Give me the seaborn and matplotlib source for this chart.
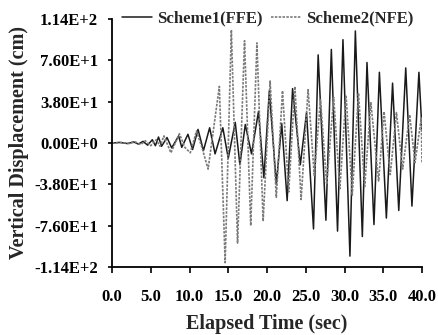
import seaborn as sns
import matplotlib.pyplot as plt

# Scheme1 (FFE) - peaks/troughs (time in sec, displacement in cm)
t_ffe = [0.0, 1.0, 2.0, 2.8, 3.4, 4.0, 4.6, 5.2, 5.6, 6.0, 6.4, 7.1, 7.7, 8.6, 9.0,
         9.8, 10.4, 11.1, 11.8, 12.6, 13.3, 14.3, 15.0, 15.9, 16.5, 17.2, 18.0, 18.9,
         19.6, 20.3, 21.2, 21.9, 22.6, 23.3, 24.3, 25.1, 26.0, 26.6, 27.6, 28.3, 29.1,
         29.8, 30.7, 31.4, 32.3, 32.9, 33.8, 34.5, 35.4, 36.2, 37.0, 37.9, 38.7, 39.6, 40.0]
d_ffe = [0, 0.5, -0.5, 1, -1, 1.5, -2, 3, -2.5, 5.5, -3, 5, -4.5, 6.5, -4,
         8, -6, 12.5, -7, 14, -10, 14, -14, 19, -20, 17, -10, 29,
         -32, 48, -38, 18, -53, 50, -20, 28, -79, 81, -71, 86, -81,
         95, -104, 103, -86, 74, -75, 65, -69, 55, -62, 69, -58, 65, 11]

# Scheme2 (NFE)
t_nfe = [0.0, 1.2, 2.2, 3.0, 3.7, 4.3, 5.0, 5.7, 6.2, 6.7, 7.6, 8.7, 9.4, 10.1, 10.9,
         11.6, 12.4, 13.85, 14.6, 15.4, 16.2, 17.1, 17.9, 18.7, 19.5, 20.4, 21.2, 22.0,
         22.8, 23.6, 24.4, 25.3, 26.1, 26.9, 27.7, 28.6, 29.4, 30.2, 31.0, 31.8, 32.6,
         33.4, 34.4, 35.1, 35.9, 36.7, 37.5, 38.4, 39.1, 39.9, 40.0]
d_nfe = [0, 0.5, -0.5, 1, -1.5, 2, -2.5, 3, -3, 6.5, -9, 8.5, -4, -9, 11,
         -4, -24, 52, -110, 104, -92, 94, -76, 92, -72, 57, -50, 48,
         -45, 52, -52, 49, -30, 40, -38, 42, -42, 44, -48, 46, -40,
         37, -35, 29, -29, 28, -24, 26, -18, 23, -19]

x_ticks = [0, 5, 10, 15, 20, 25, 30, 35, 40]
x_labels = ['0.0', '5.0', '10.0', '15.0', '20.0', '25.0', '30.0', '35.0', '40.0']
y_ticks = [-114, -76, -38, 0, 38, 76, 114]
y_labels = ['-1.14E+2', '-7.60E+1', '-3.80E+1', '0.00E+0', '3.80E+1', '7.60E+1', '1.14E+2']

sns.set_style('ticks')
plt.rcParams['font.family'] = ['Liberation Serif', 'DejaVu Serif']
plt.rcParams['font.weight'] = 'bold'

fig = plt.figure(figsize=(4.38, 3.35), dpi=100)
ax = fig.add_axes([0.2557, 0.203, 0.7078, 0.7403])

sns.lineplot(x=t_ffe, y=d_ffe, ax=ax, color='#1a1a1a', linewidth=1.1,
             label='Scheme1(FFE)', sort=False)
sns.lineplot(x=t_nfe, y=d_nfe, ax=ax, color='#7a7a7a', linewidth=1.2,
             linestyle=(0, (1.5, 0.8)), label='Scheme2(NFE)', sort=False)

ax.set_xlim(0, 40)
ax.set_ylim(-114, 114)
ax.set_xticks(x_ticks)
ax.set_xticklabels(x_labels, fontsize=12, fontweight='bold')
ax.set_yticks(y_ticks)
ax.set_yticklabels(y_labels, fontsize=12, fontweight='bold')
ax.tick_params(axis='x', direction='out', length=4, width=1.2, pad=12, colors='black')
ax.tick_params(axis='y', direction='out', length=3, width=1.2, pad=7, colors='black')
for side in ['top', 'right']:
    ax.spines[side].set_visible(False)
for side in ['left', 'bottom']:
    ax.spines[side].set_linewidth(1.3)
    ax.spines[side].set_color('black')

ax.set_xlabel('Elapsed Time (sec)', fontsize=14.5, fontweight='bold', labelpad=6)
ax.set_ylabel('Vertical Displacement (cm)', fontsize=14.5, fontweight='bold', labelpad=4)

ax.get_legend().remove()
handles, labels = ax.get_legend_handles_labels()
fig.legend(handles, labels, loc='center left', bbox_to_anchor=(0.278, 0.945), ncol=2,
           frameon=False, handlelength=1.8, handletextpad=0.3, columnspacing=0.55,
           borderpad=0, borderaxespad=0, prop={'size': 12, 'weight': 'bold'})

fig.savefig('out.png', dpi=100)
